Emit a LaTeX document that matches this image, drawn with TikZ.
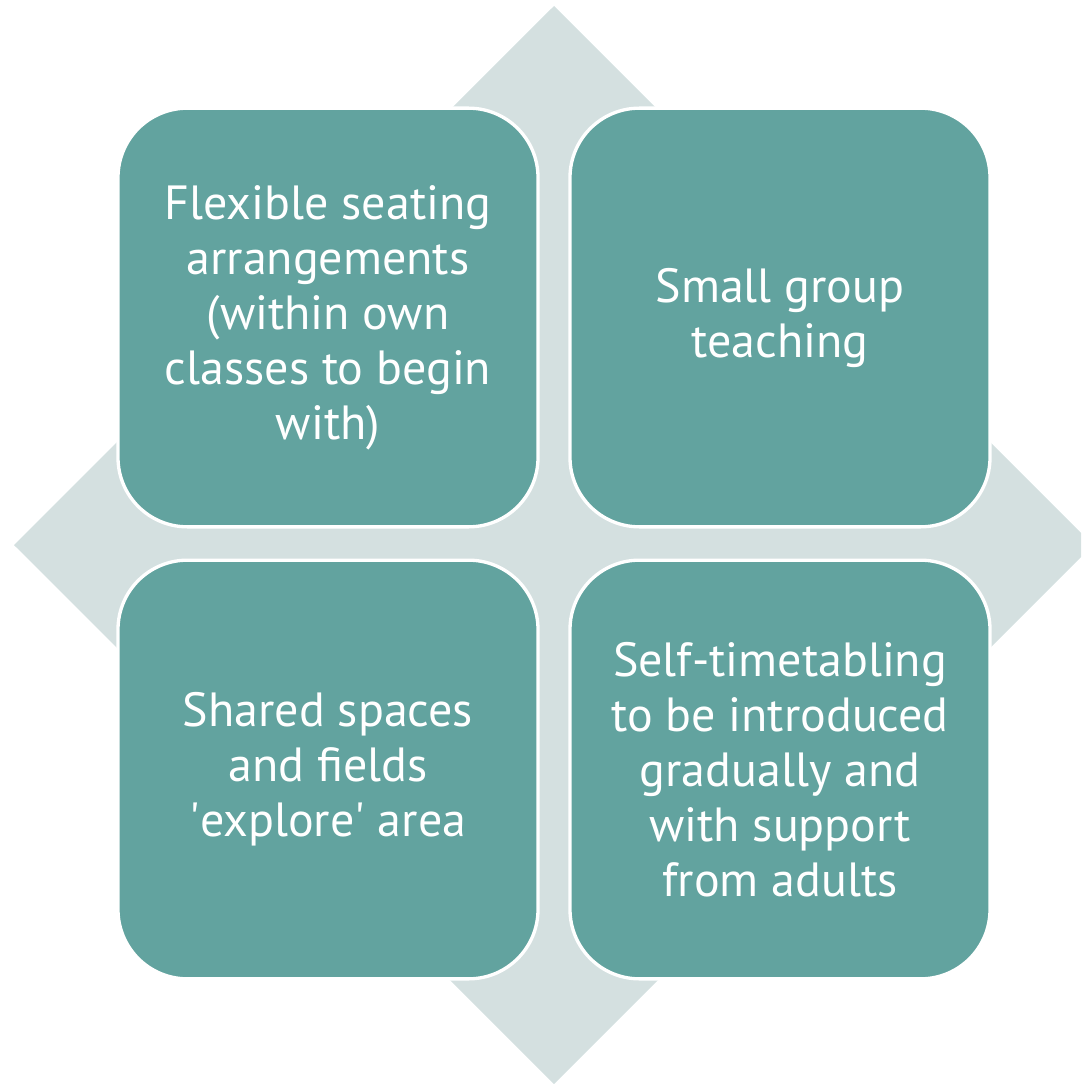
\documentclass[tikz,border=0pt]{standalone}
\usepackage{fontspec}
\setmainfont{PT Sans}
\definecolor{quadteal}{HTML}{62A39F}
\definecolor{diamondgrey}{HTML}{D4E0E0}

\begin{document}
\begin{tikzpicture}[x=0.75pt, y=-0.75pt,
  quad/.style={draw=white, line width=2.5pt, fill=quadteal, rounded corners=52pt,
    minimum width=315pt, minimum height=314pt, inner sep=0pt, align=center,
    text=white, font=\fontsize{36}{41.25}\selectfont}]

\useasboundingbox (0,0) rectangle (1081,1084);
\clip (0,0) rectangle (1081,1084);

% background diamond
\fill[diamondgrey] (554,6) -- (1093,545) -- (554,1084) -- (14,545) -- cycle;

\node[quad] (seating) at (328,317.5) {Flexible seating\\arrangements\\(within own\\classes to begin\\with)};
\node[quad] (groups) at (780,317.5) {Small group\\teaching};
\node[quad] (spaces) at (328,769.5) {Shared spaces\\and fields\\\textquotesingle explore\textquotesingle{} area};
\node[quad] (timetable) at (780,769.5) {Self-timetabling\\to be introduced\\gradually and\\with support\\from adults};

\end{tikzpicture}
\end{document}
